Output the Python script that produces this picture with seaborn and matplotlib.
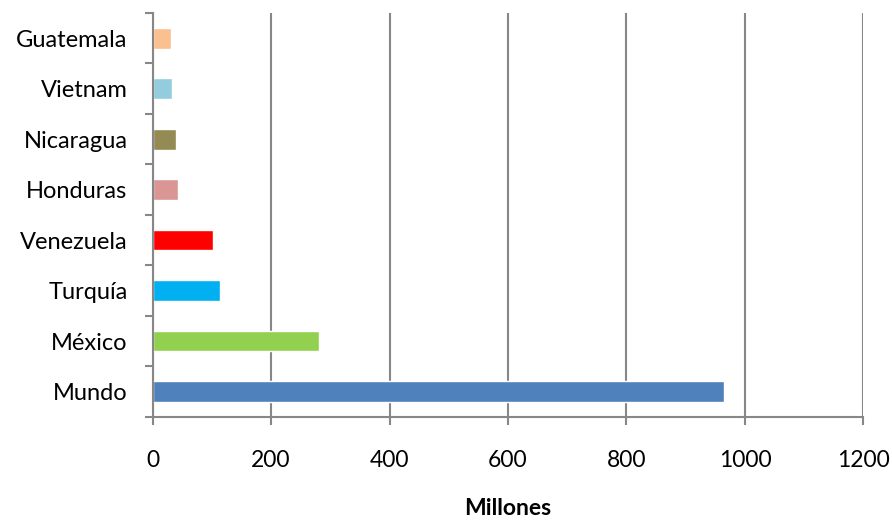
import numpy as np
import pandas as pd
import matplotlib
matplotlib.use('Agg')
import matplotlib.pyplot as plt
import seaborn as sns

sns.set_style('white')
plt.rcParams['font.family'] = ['Lato', 'DejaVu Sans']
plt.rcParams['text.color'] = 'black'
plt.rcParams['xtick.labelcolor'] = 'black'
plt.rcParams['ytick.labelcolor'] = 'black'
plt.rcParams['axes.labelcolor'] = 'black'

paises = ['Guatemala', 'Vietnam', 'Nicaragua', 'Honduras',
          'Venezuela', 'Turquía', 'México', 'Mundo']
millones = [31, 33, 40, 43, 102, 114, 281, 965]
colores = ['#FAC090', '#93CDDD', '#948A54', '#D99694',
           '#FF0000', '#00B0F0', '#92D050', '#4F81BD']

df = pd.DataFrame({'pais': paises, 'millones': millones})

gris = '#878787'
fig = plt.figure(figsize=(8.92, 5.21), dpi=100)
ax = fig.add_axes([0.171, 0.2, 0.797, 0.775])

sns.barplot(data=df, x='millones', y='pais', hue='pais', palette=colores,
            order=paises, hue_order=paises, legend=False, width=0.41,
            saturation=1, ax=ax)

ax.set_xlim(0, 1200)
ax.set_ylim(len(paises) - 0.5, -0.5)
ax.set_xticks(np.arange(0, 1201, 200))
ax.xaxis.grid(True, color=gris, linewidth=1.5)
ax.set_axisbelow(True)

# ticks de categoria en los limites, como en Excel
ax.set_yticks(np.arange(-0.5, len(paises), 1.0), minor=True)
ax.tick_params(axis='y', which='major', length=0, pad=18, labelsize=17)
ax.tick_params(axis='y', which='minor', length=6, width=1.5, color=gris, left=True)
ax.tick_params(axis='x', length=6, width=1.5, color=gris, bottom=True,
               pad=18, labelsize=16.5)

for s in ['top', 'right']:
    ax.spines[s].set_visible(False)
for s in ['left', 'bottom']:
    ax.spines[s].set_color(gris)
    ax.spines[s].set_linewidth(1.5)

ax.set_ylabel('')
ax.set_xlabel('Millones', fontsize=16.5, fontweight='bold', labelpad=19)

fig.savefig('out.png', dpi=100)
